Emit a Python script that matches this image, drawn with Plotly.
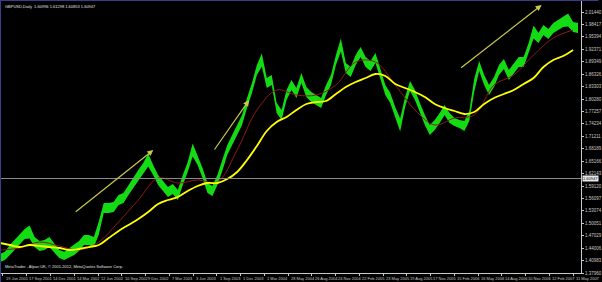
import plotly.graph_objects as go

# ---------------- data ----------------
symbol_header = "GBPUSD,Daily  1.60996 1.61298 1.60853 1.60947"
copyright_text = "MetaTrader - Alpari UK, \u00a9 2001-2012, MetaQuotes Software Corp."
bid_price = 1.60947

date_labels = ["19 Jun 2001", "17 Sep 2001", "14 Dec 2001", "14 Mar 2002", "12 Jun 2002",
               "10 Sep 2002", "9 Dec 2002", "7 Mar 2003", "3 Jun 2003", "1 Sep 2003",
               "1 Dec 2003", "1 Mar 2004", "28 May 2004", "26 Aug 2004", "24 Nov 2004",
               "22 Feb 2005", "23 May 2005", "19 Aug 2005", "17 Nov 2005", "15 Feb 2006",
               "16 May 2006", "14 Aug 2006", "10 Nov 2006", "12 Feb 2007", "11 May 2007"]
bars_per_label = 64

price_labels = ["2.01440", "1.98417", "1.95394", "1.92371", "1.89349", "1.86326", "1.83303",
                "1.80280", "1.77257", "1.74234", "1.71211", "1.68189", "1.65166", "1.62143",
                "1.59120", "1.56097", "1.53074", "1.50051", "1.47029", "1.44006", "1.40983",
                "1.37960"]

high = [1.4261, 1.4310, 1.4475, 1.4597, 1.4719, 1.4865, 1.4953, 1.4670, 1.4573, 1.4597,
        1.4670, 1.4524, 1.4358, 1.4310, 1.4403, 1.4475, 1.4573, 1.4719, 1.4719, 1.4670,
        1.5051, 1.5497, 1.5497, 1.5521, 1.5692, 1.5740, 1.5935, 1.6105, 1.6300, 1.6470,
        1.6704, 1.6421, 1.6178, 1.6032, 1.5886, 1.5959, 1.5813, 1.6178, 1.6494, 1.6948,
        1.6664, 1.6348, 1.5983, 1.5911, 1.6178, 1.6519, 1.6908, 1.7151, 1.7394, 1.7637,
        1.8051, 1.8416, 1.8853, 1.9137, 1.8537, 1.8610, 1.7929, 1.7759, 1.8245, 1.8489,
        1.8294, 1.8659, 1.8318, 1.8197, 1.8124, 1.8051, 1.8367, 1.8610, 1.9097, 1.9502,
        1.8902, 1.8805, 1.9097, 1.9291, 1.9048, 1.8951, 1.9145, 1.8732, 1.8367, 1.8172,
        1.7832, 1.7556, 1.8075, 1.8464, 1.8245, 1.7929, 1.7637, 1.7394, 1.7516, 1.7686,
        1.7881, 1.7686, 1.7569, 1.7520, 1.7491, 1.7735, 1.8529, 1.8951, 1.8610, 1.8367,
        1.8562, 1.8853, 1.8999, 1.8732, 1.8902, 1.9048, 1.9048, 1.9389, 1.9818, 1.9632,
        1.9826, 1.9729, 1.9875, 1.9948, 2.0021, 2.0110, 1.9899, 1.9875]

low = [1.4061, 1.4110, 1.4235, 1.4357, 1.4479, 1.4625, 1.4633, 1.4430, 1.4333, 1.4357,
       1.4430, 1.4284, 1.4158, 1.4110, 1.4163, 1.4235, 1.4333, 1.4479, 1.4479, 1.4430,
       1.4731, 1.5257, 1.5257, 1.5281, 1.5452, 1.5500, 1.5695, 1.5865, 1.6060, 1.6230,
       1.6384, 1.6181, 1.5938, 1.5792, 1.5646, 1.5719, 1.5573, 1.5938, 1.6254, 1.6628,
       1.6424, 1.6108, 1.5743, 1.5671, 1.5938, 1.6279, 1.6668, 1.6911, 1.7154, 1.7397,
       1.7811, 1.8176, 1.8613, 1.8817, 1.8297, 1.8370, 1.7689, 1.7519, 1.8005, 1.8249,
       1.8054, 1.8419, 1.8078, 1.7957, 1.7884, 1.7811, 1.8127, 1.8370, 1.8857, 1.9182,
       1.8662, 1.8565, 1.8857, 1.9051, 1.8808, 1.8711, 1.8905, 1.8492, 1.8127, 1.7932,
       1.7592, 1.7236, 1.7835, 1.8224, 1.8005, 1.7689, 1.7397, 1.7154, 1.7276, 1.7446,
       1.7641, 1.7446, 1.7369, 1.7320, 1.7251, 1.7495, 1.8209, 1.8711, 1.8370, 1.8127,
       1.8322, 1.8613, 1.8759, 1.8492, 1.8662, 1.8808, 1.8808, 1.9149, 1.9498, 1.9392,
       1.9586, 1.9489, 1.9635, 1.9708, 1.9781, 1.9790, 1.9659, 1.9635]

# slow moving average (yellow), one value every second sample
ma_slow = [1.4526, 1.4477, 1.4428, 1.4477, 1.4453, 1.4428, 1.4404, 1.4355, 1.4380, 1.4428,
           1.4477, 1.4647, 1.4818, 1.4964, 1.5109, 1.5280, 1.5474, 1.5572, 1.5645, 1.5791,
           1.5912, 1.5985, 1.5985, 1.6082, 1.6253, 1.6544, 1.6885, 1.7250, 1.7469, 1.7590,
           1.7761, 1.7907, 1.7955, 1.7979, 1.8150, 1.8320, 1.8442, 1.8539, 1.8636, 1.8588,
           1.8393, 1.8296, 1.8198, 1.8077, 1.7907, 1.7809, 1.7736, 1.7663, 1.7712, 1.7907,
           1.8052, 1.8150, 1.8247, 1.8393, 1.8539, 1.8806, 1.8977, 1.9074, 1.9220]

# fast moving average (dark red), one value every fourth sample
ma_fast = [1.4355, 1.4404, 1.4550, 1.4453, 1.4355, 1.4550, 1.5037, 1.5572, 1.6107, 1.5985,
           1.6058, 1.6009, 1.6788, 1.7761, 1.8247, 1.8125, 1.8125, 1.8369, 1.8928, 1.8928,
           1.8369, 1.7761, 1.7396, 1.7566, 1.7639, 1.8369, 1.8612, 1.9098, 1.9512, 1.9706]

# trend arrows drawn on the chart: (start bar, start price, end bar, end price)
arrows = [(192, 1.5255, 405, 1.6788),
          (567, 1.6763, 663, 1.8001),
          (1230, 1.8758, 1451, 2.0314)]

# ---------------- figure ----------------
n = len(high)
bar = [k * 13.308 - 7.985 for k in range(n)]
bar_slow = bar[::2]
bar_fast = bar[::4]

GREEN = "#14dc14"
TXT = "#c8c8c8"
FONT = "Liberation Sans"

fig = go.Figure()
fig.add_trace(go.Scatter(x=bar, y=low, mode="lines", line=dict(color=GREEN, width=0),
                         hoverinfo="skip", showlegend=False))
fig.add_trace(go.Scatter(x=bar, y=high, mode="lines", line=dict(color=GREEN, width=0),
                         fill="tonexty", fillcolor=GREEN, hoverinfo="skip", showlegend=False))
fig.add_trace(go.Scatter(x=bar_fast, y=ma_fast, mode="lines",
                         line=dict(color="#8b1a1a", width=1, shape="spline"), showlegend=False))
fig.add_trace(go.Scatter(x=bar_slow, y=ma_slow, mode="lines",
                         line=dict(color="#ffff00", width=1.8, shape="spline"), showlegend=False))

tickvals_y = [float(s) for s in price_labels]
tickvals_x = [bars_per_label * j for j in range(len(date_labels))]

fig.update_layout(
    width=602, height=282,
    margin=dict(l=0, r=14, t=0, b=9),
    paper_bgcolor="black", plot_bgcolor="black",
    font=dict(family=FONT, size=4, color=TXT),
    xaxis=dict(range=[-7.985, 1557.1], tickvals=tickvals_x, showticklabels=False,
               ticks="outside", ticklen=2, tickcolor=TXT, showline=True, linecolor=TXT,
               linewidth=1, showgrid=False, zeroline=False),
    yaxis=dict(range=[1.3796, 2.0436], side="right", tickvals=tickvals_y, ticktext=price_labels,
               tickfont=dict(size=4.5, color=TXT), ticks="outside", ticklen=2, tickcolor=TXT,
               showline=True, linecolor=TXT, linewidth=1, showgrid=False, zeroline=False),
)

ann = []
for tv, lab in zip(tickvals_x, date_labels):
    ann.append(dict(x=tv + 2, y=0, xref="x", yref="paper", text=lab, showarrow=False,
                    xanchor="left", yanchor="top", yshift=-1,
                    font=dict(size=4, color=TXT, family=FONT)))
for (x0, y0, x1, y1) in arrows:
    ann.append(dict(x=x1, y=y1, ax=x0, ay=y0, xref="x", yref="y", axref="x", ayref="y",
                    text="", showarrow=True, arrowhead=2, arrowsize=1, arrowwidth=1.2,
                    arrowcolor="#c8c84a"))
ann.append(dict(x=0.006, y=1, xref="paper", yref="paper", text=symbol_header, showarrow=False,
                xanchor="left", yanchor="top", yshift=-2, font=dict(size=4, color="#e0e0e0", family=FONT)))
ann.append(dict(x=0.006, y=0, xref="paper", yref="paper", text=copyright_text, showarrow=False,
                xanchor="left", yanchor="bottom", yshift=2, font=dict(size=4, color="#e0e0e0", family=FONT)))
ann.append(dict(x=1, y=bid_price, xref="paper", yref="y", text="1.60947", showarrow=False,
                xanchor="left", yanchor="middle", xshift=1, bgcolor="#e8e8e8", borderpad=0,
                font=dict(size=4, color="black", family=FONT)))
fig.update_layout(annotations=ann)

fig.add_shape(type="line", xref="paper", yref="y", x0=0, x1=1, y0=bid_price, y1=bid_price,
              line=dict(color="#8c8c8c", width=1))
fig.add_shape(type="line", xref="paper", yref="paper", x0=0, x1=0, y0=-0.04, y1=1,
              line=dict(color="#3c3c8c", width=2))
fig.add_shape(type="line", xref="paper", yref="paper", x0=0, x1=1.03, y0=1, y1=1,
              line=dict(color="#3c3c8c", width=2))

fig.write_html("out.html")
